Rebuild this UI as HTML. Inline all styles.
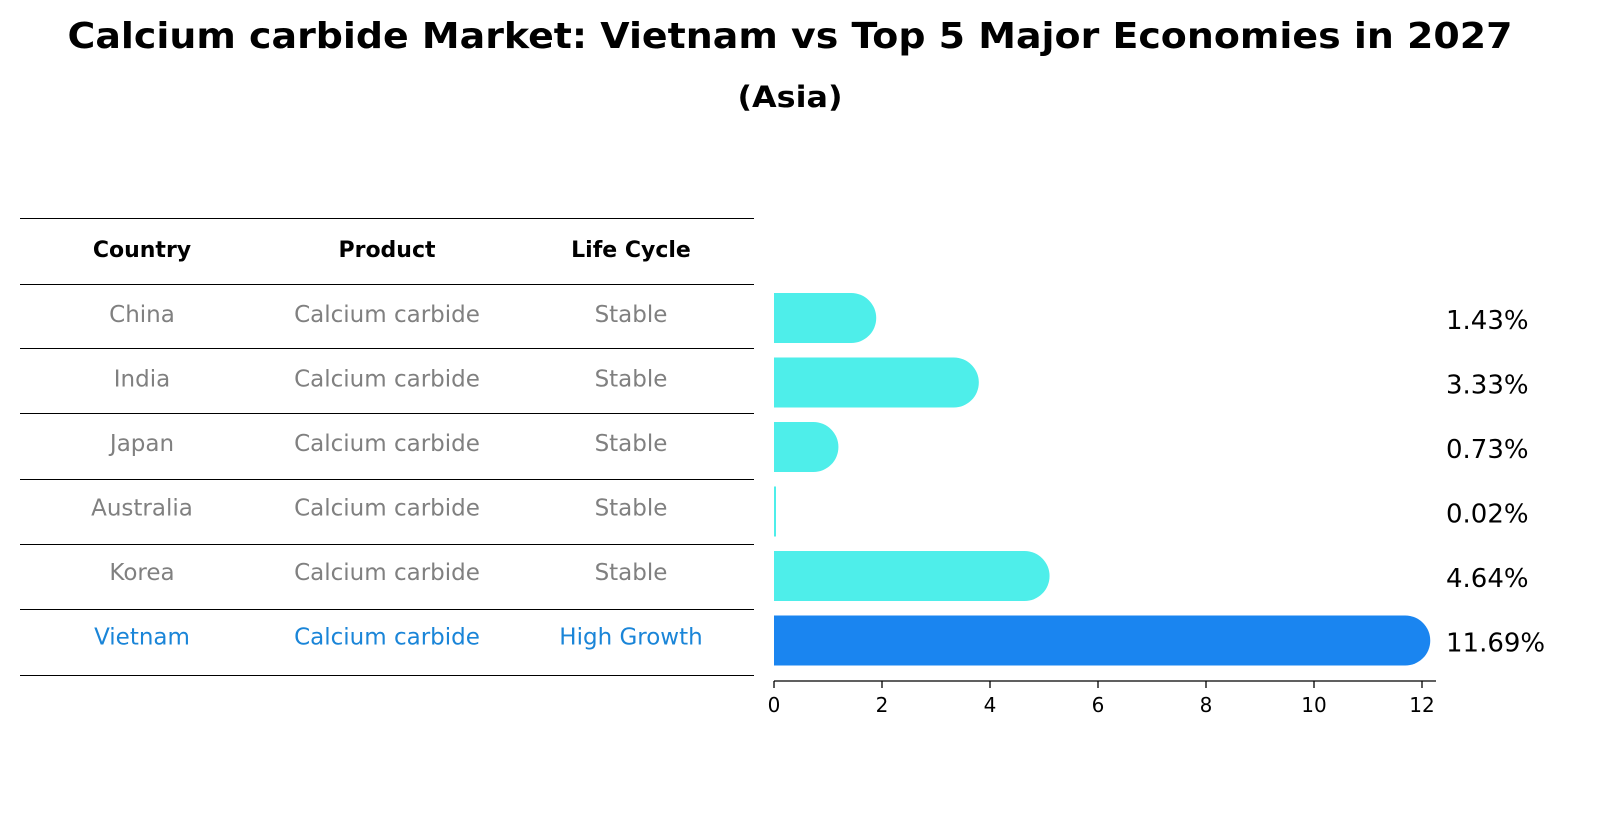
<!DOCTYPE html>
<html><head><meta charset="utf-8"><style>
body{margin:0;background:#fff;font-family:"Liberation Sans","DejaVu Sans",sans-serif;}
</style></head><body>
<svg width="1604" height="823" viewBox="0 0 1604 823" xmlns="http://www.w3.org/2000/svg" font-family="DejaVu Sans, Liberation Sans, sans-serif">
<text x="790" y="48" text-anchor="middle" font-size="36" font-weight="bold" textLength="1445" lengthAdjust="spacingAndGlyphs">Calcium carbide Market: Vietnam vs Top 5 Major Economies in 2027</text>
<text x="790" y="107" text-anchor="middle" font-size="29" font-weight="bold" textLength="105" lengthAdjust="spacingAndGlyphs">(Asia)</text>
<g id="table"></g>
<g id="bars"></g>
</svg>
<script>
const countries=["China","India","Japan","Australia","Korea","Vietnam"];
const products=["Calcium carbide","Calcium carbide","Calcium carbide","Calcium carbide","Calcium carbide","Calcium carbide"];
const lifeCycles=["Stable","Stable","Stable","Stable","Stable","High Growth"];
const values=[1.43,3.33,0.73,0.02,4.64,11.69];
const valueLabels=["1.43%","3.33%","0.73%","0.02%","4.64%","11.69%"];
const ticks=[0,2,4,6,8,10,12];
const NS="http://www.w3.org/2000/svg";
function mk(t,a,p){const e=document.createElementNS(NS,t);for(const k in a)e.setAttribute(k,a[k]);p.appendChild(e);return e;}
const x=v=>774+v*54;
const rowY=i=>318+i*64.5;
const tb=document.getElementById('table'),bg=document.getElementById('bars');
const lines=[218,284,348,413,479,544,609,675];
lines.forEach(y=>{const l=mk('line',{x1:20,x2:754,y1:y+0.5,y2:y+0.5,stroke:'#000','stroke-width':1},tb);

});
const cx=[142,387,631];
["Country","Product","Life Cycle"].forEach((h,j)=>{const t=mk('text',{x:cx[j],y:257,'text-anchor':'middle','font-size':22,'font-weight':'bold'},tb);t.textContent=h;

});
countries.forEach((c,i)=>{const col=i==5?'#1a85d8':'#808080';const y=rowY(i)+4;
[c,products[i],lifeCycles[i]].forEach((s,j)=>{const t=mk('text',{x:cx[j],y:y,'text-anchor':'middle','font-size':23,fill:col},tb);t.textContent=s;

});
const v=values[i],w=x(v)-x(0),yy=rowY(i)-25;
const fill=i==5?'#1a85f0':'#4eeeea';
const p=mk('path',{d:`M${x(0)},${yy}H${x(v)}a25,25 0 0 1 0,50H${x(0)}Z`,fill:fill},bg);
if(w<2){p.setAttribute('d',`M${x(0)},${yy}h2v50h-2Z`);}


const t=mk('text',{x:1446,y:rowY(i)+11,'font-size':26},bg);t.textContent=valueLabels[i];

});
const ax=mk('line',{x1:774,x2:1436,y1:681,y2:681,stroke:'#000','stroke-width':1.3},bg);


ticks.forEach(v=>{const l=mk('line',{x1:x(v),x2:x(v),y1:681,y2:688,stroke:'#000','stroke-width':1.3},bg);


const t=mk('text',{x:x(v),y:712,'text-anchor':'middle','font-size':20},bg);t.textContent=v;

});
</script>
</body></html>
